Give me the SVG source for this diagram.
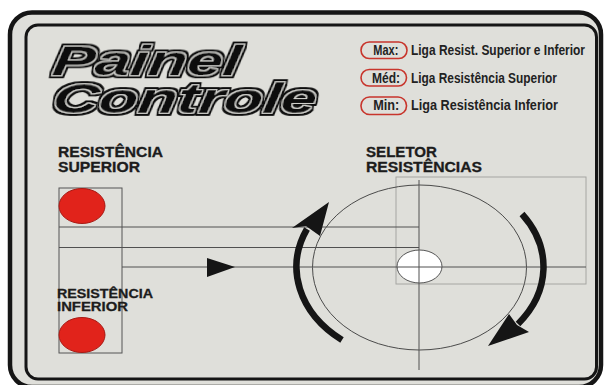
<svg xmlns="http://www.w3.org/2000/svg" width="604" height="385" viewBox="0 0 604 385">
  <defs>
    <style>
      .lbl { font-family: "Liberation Sans", Arial, sans-serif; font-weight: bold; font-size: 14px; fill: #1c1c1c; stroke: #1c1c1c; stroke-width: 0.3; }
      .lbl2 { font-family: "Liberation Sans", Arial, sans-serif; font-weight: bold; font-size: 13px; fill: #1c1c1c; stroke: #1c1c1c; stroke-width: 0.3; }
      .leg { font-family: "Liberation Sans Narrow", "Liberation Sans", Arial, sans-serif; font-weight: bold; font-size: 14px; fill: #222; }
      .pill { fill: none; stroke: #c8352c; stroke-width: 1.6; }
      .ln { stroke: #505050; stroke-width: 1; fill: none; }
      .red { fill: #e1231b; stroke: #a81a14; stroke-width: 1; }
      .title { font-family: "Liberation Sans", Arial, sans-serif; font-weight: bold; font-style: italic; font-size: 43px; fill: #111; filter: url(#outline); }
      .arc { fill: none; stroke: #151515; stroke-width: 6.5; }
    </style>
    <filter id="outline" x="-5%" y="-25%" width="110%" height="150%">
      <feMorphology in="SourceAlpha" operator="dilate" radius="2.6" result="d2"/>
      <feFlood flood-color="#111111" result="f2"/>
      <feComposite in="f2" in2="d2" operator="in" result="outer"/>
      <feMorphology in="SourceAlpha" operator="dilate" radius="1.3" result="d1"/>
      <feFlood flood-color="#d0d0cc" result="f1"/>
      <feComposite in="f1" in2="d1" operator="in" result="mid"/>
      <feMerge>
        <feMergeNode in="outer"/>
        <feMergeNode in="mid"/>
        <feMergeNode in="SourceGraphic"/>
      </feMerge>
    </filter>
  </defs>
  <rect width="604" height="385" fill="#ffffff"/>
  <g id="panel">
    <rect x="10" y="12.5" width="591" height="374.5" rx="22" fill="#dfdfda" stroke="#151515" stroke-width="4.5"/>
    <rect x="26" y="25" width="570.5" height="354" rx="12" fill="#dfdfda" stroke="#151515" stroke-width="3"/>
  </g>
  <g id="title">
    <text class="title" x="51" y="75" textLength="188" lengthAdjust="spacingAndGlyphs" transform="translate(0 75) skewX(-8) translate(0 -75)">Painel</text>
    <text class="title" x="51" y="113" textLength="264" lengthAdjust="spacingAndGlyphs" transform="translate(0 113) skewX(-8) translate(0 -113)">Controle</text>
  </g>
  <g id="legend">
    <rect class="pill" x="361" y="42" width="46" height="16.5" rx="8.2"/>
    <text class="leg" x="373.3" y="55" textLength="25" lengthAdjust="spacingAndGlyphs">Max:</text>
    <text class="leg" x="411" y="55" textLength="174" lengthAdjust="spacingAndGlyphs">Liga Resist. Superior e Inferior</text>
    <rect class="pill" x="361" y="69.5" width="45.5" height="16.5" rx="8.2"/>
    <text class="leg" x="372" y="83" textLength="28" lengthAdjust="spacingAndGlyphs">Méd:</text>
    <text class="leg" x="411" y="83" textLength="146" lengthAdjust="spacingAndGlyphs">Liga Resistência Superior</text>
    <rect class="pill" x="361" y="97" width="45.5" height="17.5" rx="8.5"/>
    <text class="leg" x="373.3" y="110" textLength="26" lengthAdjust="spacingAndGlyphs">Min:</text>
    <text class="leg" x="411" y="110" textLength="147" lengthAdjust="spacingAndGlyphs">Liga Resistência Inferior</text>
  </g>
  <g id="resistencia-superior">
    <text class="lbl" x="58" y="157" textLength="105" lengthAdjust="spacingAndGlyphs">RESISTÊNCIA</text>
    <text class="lbl" x="58" y="172" textLength="82" lengthAdjust="spacingAndGlyphs">SUPERIOR</text>
    <rect x="59" y="188" width="63" height="165" fill="none" stroke="#555" stroke-width="1"/>
    <ellipse class="red" cx="82" cy="206" rx="23" ry="17.5"/>
  </g>
  <g id="resistencia-inferior">
    <ellipse class="red" cx="82" cy="335" rx="23" ry="17.5"/>
    <text class="lbl2" x="57" y="298" textLength="96" lengthAdjust="spacingAndGlyphs">RESISTÊNCIA</text>
    <text class="lbl2" x="57" y="311" textLength="71" lengthAdjust="spacingAndGlyphs">INFERIOR</text>
  </g>
  <g id="selector">
    <text class="lbl" x="366" y="157" textLength="71" lengthAdjust="spacingAndGlyphs">SELETOR</text>
    <text class="lbl" x="366" y="172" textLength="116" lengthAdjust="spacingAndGlyphs">RESISTÊNCIAS</text>
    <rect x="396" y="177" width="190" height="107" fill="none" stroke="#a6a6a2" stroke-width="1"/>
    <ellipse cx="419.5" cy="267.5" rx="107" ry="82.5" fill="none" stroke="#3a3a3a" stroke-width="0.9"/>
  </g>
  <g id="connectors">
    <line class="ln" x1="59" y1="227" x2="419" y2="227"/>
    <line class="ln" x1="59" y1="247.5" x2="419" y2="247.5"/>
    <line class="ln" x1="122" y1="267" x2="586" y2="267"/>
    <line class="ln" x1="419" y1="180" x2="419" y2="370"/>
    <polygon points="207,258 235,267 207,277" fill="#151515"/>
    <path class="arc" d="M 342 340 A 123 94 0 0 1 307 229"/>
    <polygon points="329,202 292,228 306,226 320,236" fill="#151515"/>
    <path class="arc" d="M 522 214 A 124 94 0 0 1 518 324"/>
    <polygon points="488,346 509,314 517,325 529,332" fill="#151515"/>
  </g>
  <g id="knob">
    <ellipse cx="419.5" cy="266.5" rx="22.5" ry="16.5" fill="#ffffff" stroke="#555" stroke-width="1"/>
    <line class="ln" x1="419" y1="250" x2="419" y2="283"/>
    <line class="ln" x1="397" y1="267" x2="442" y2="267"/>
  </g>
</svg>
